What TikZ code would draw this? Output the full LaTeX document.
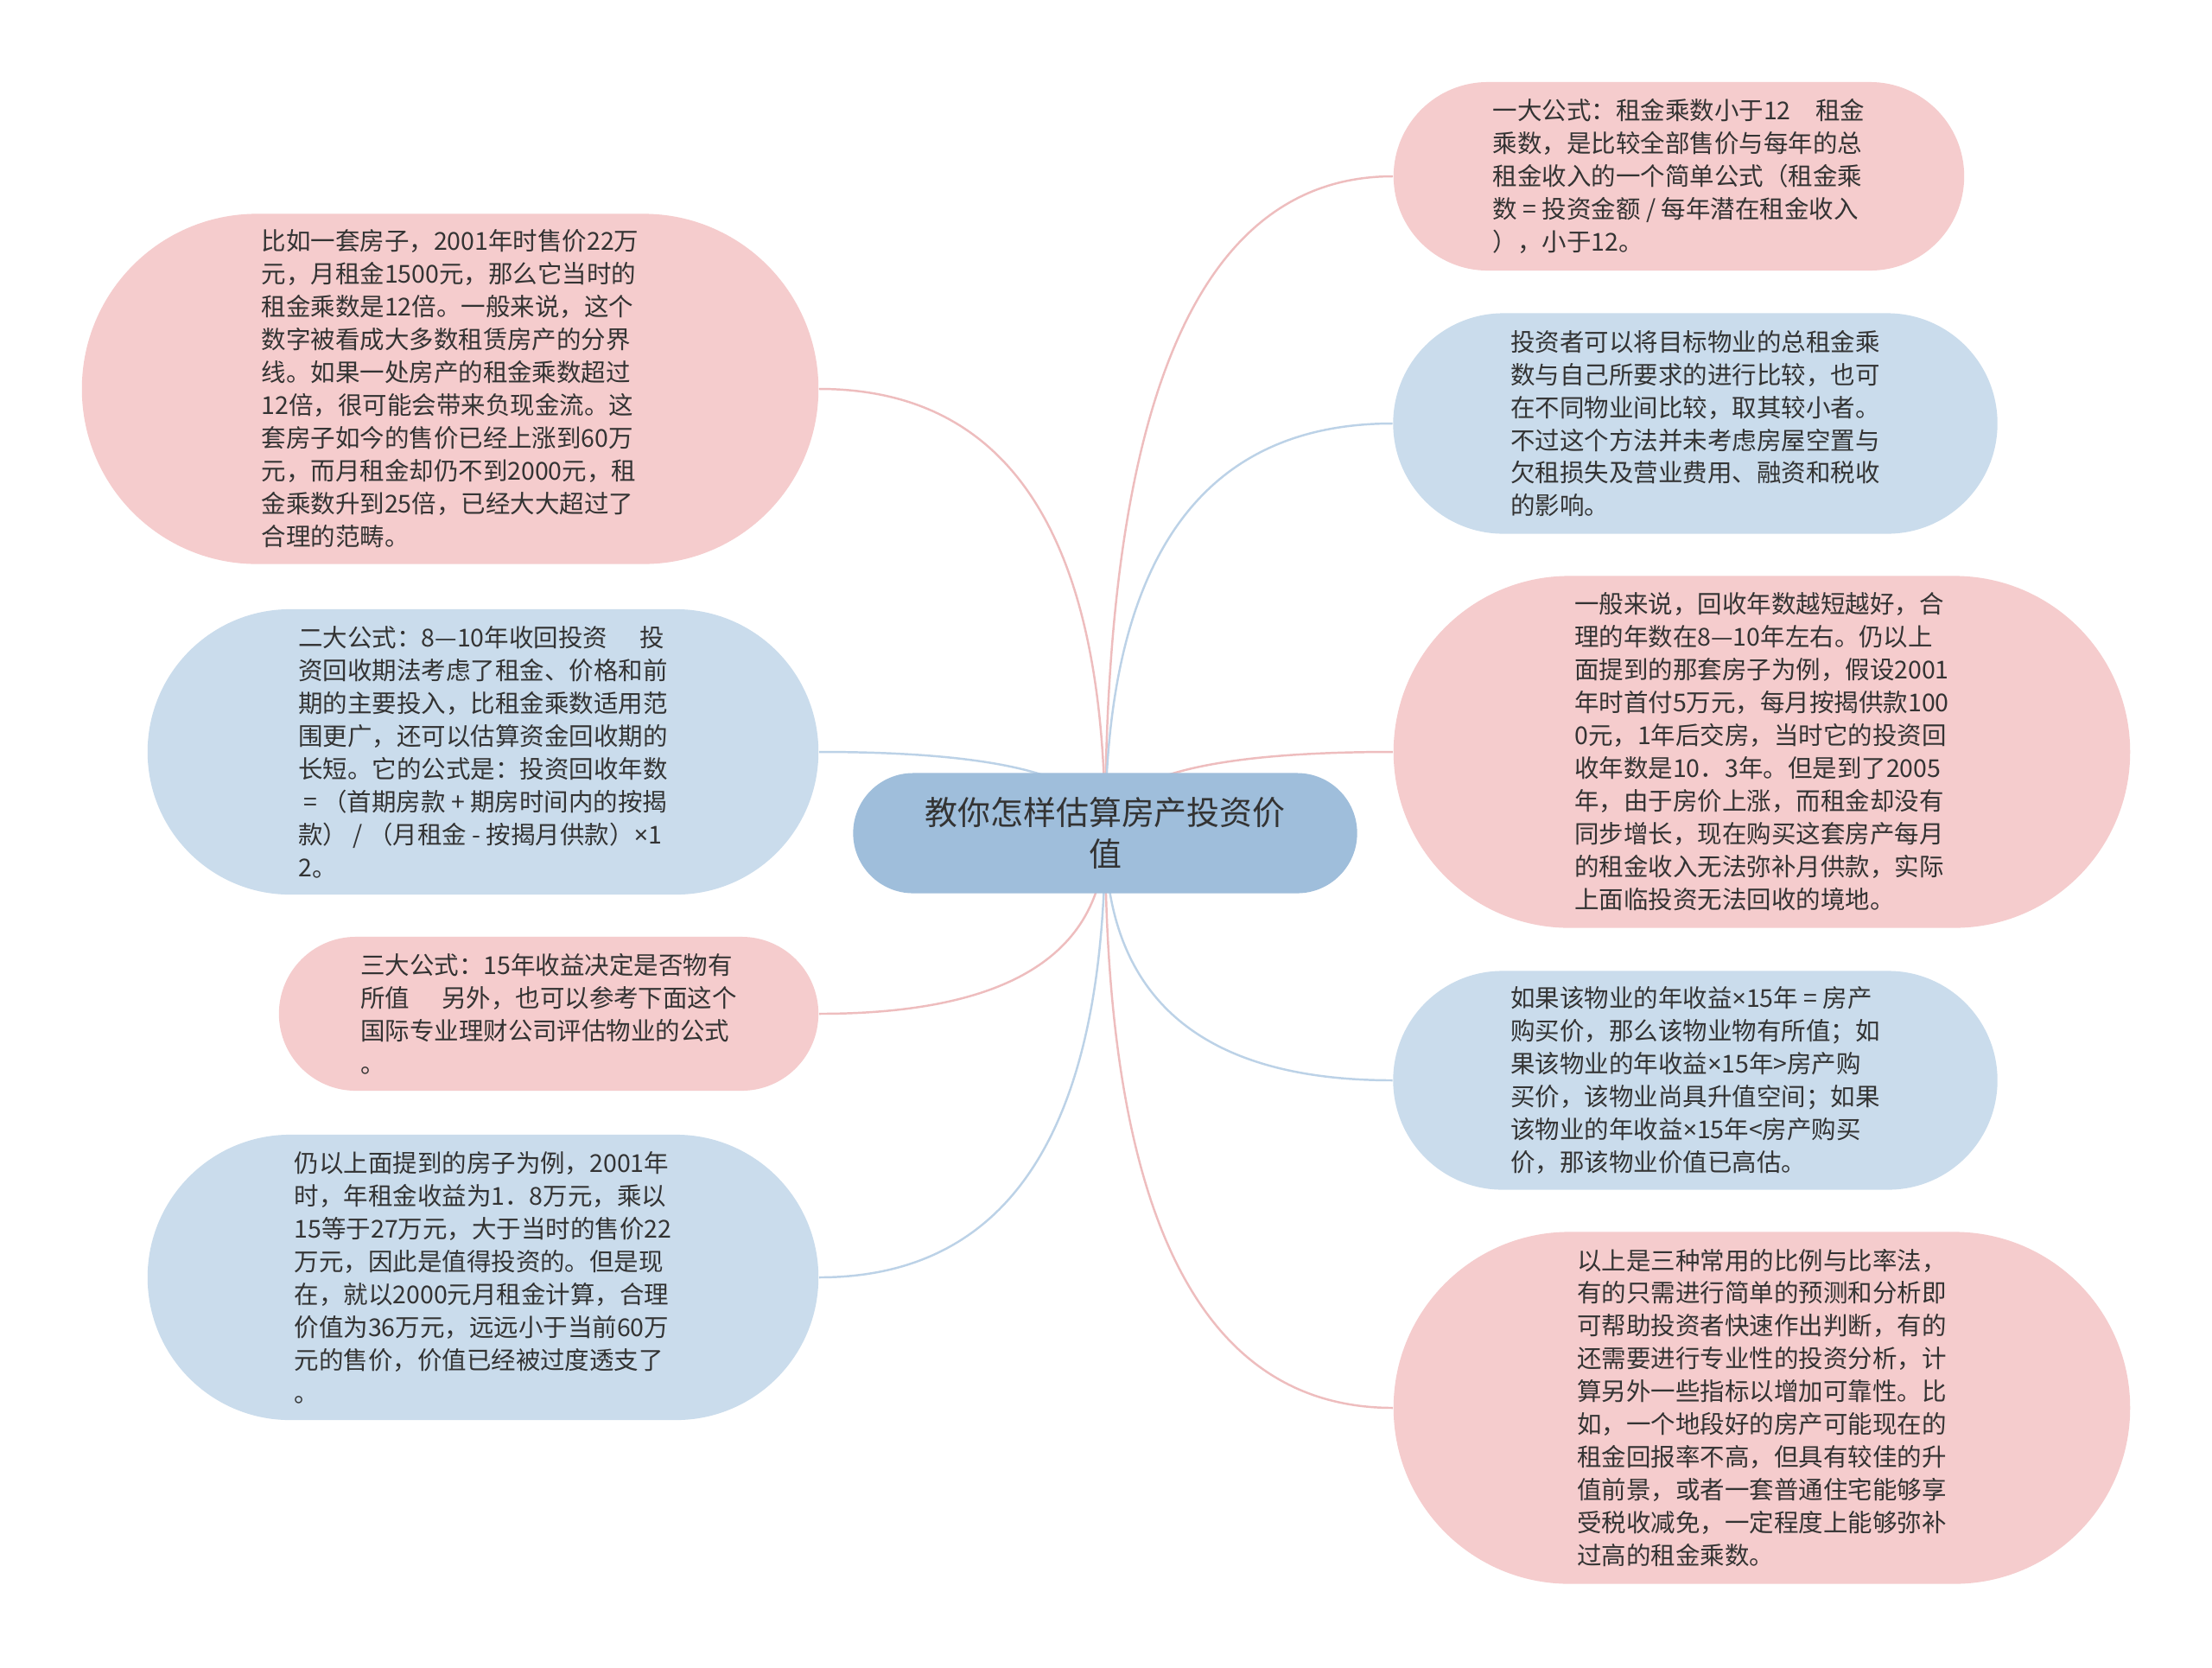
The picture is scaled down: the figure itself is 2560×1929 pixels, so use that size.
\documentclass[tikz,border=0pt]{standalone}
\usepackage{fontspec}
\newfontfamily\cjk{Noto Sans CJK SC}
\newfontfamily\latin{Noto Sans}
\usetikzlibrary{shapes.misc,calc,backgrounds}
\definecolor{pinkfill}{HTML}{F5CCCD}
\definecolor{bluefill}{HTML}{CADCEC}
\definecolor{rootfill}{HTML}{9FBEDB}
\definecolor{pinkline}{HTML}{EEBDBE}
\definecolor{blueline}{HTML}{BCD2E7}
\definecolor{txt}{HTML}{333333}
\tikzset{
  leaf/.style={rounded rectangle, inner sep=0pt, align=left, text=txt,
    font=\cjk\fontsize{8.1pt}{10.8pt}\selectfont},
  pinkleaf/.style={leaf, fill=pinkfill},
  blueleaf/.style={leaf, fill=bluefill},
  root/.style={rounded rectangle, inner sep=0pt, fill=rootfill, align=center,
    text=txt, font=\cjk\fontsize{10.8pt}{13.4pt}\selectfont},
  pinkedge/.style={draw=pinkline, line width=0.7pt},
  blueedge/.style={draw=blueline, line width=0.7pt},
}
\newcommand\tms{{\latin ×}}
% curve from the root to a leaf
\newcommand\branch[3]{%
  \draw[#1] (#2) .. controls ($(#2)!.667!(#2|-#3)$) and ($(#3)!.667!(#2|-#3)$) .. (#3);}
\begin{document}
\begin{tikzpicture}[x=0.01cm,y=-0.01cm]
\node[root, minimum width=5.83cm, minimum height=1.39cm] (ctr) at (1279,964)
  {教你怎样估算房产投资价\\值};
% left side
\node[pinkleaf, minimum width=8.52cm, minimum height=4.05cm] (l1) at (521,450)
  {比如一套房子，2001年时售价22万\\
元，月租金1500元，那么它当时的\\
租金乘数是12倍。一般来说，这个\\
数字被看成大多数租赁房产的分界\\
线。如果一处房产的租金乘数超过\\
12倍，很可能会带来负现金流。这\\
套房子如今的售价已经上涨到60万\\
元，而月租金却仍不到2000元，租\\
金乘数升到25倍，已经大大超过了\\
合理的范畴。};
\node[blueleaf, minimum width=7.76cm, minimum height=3.30cm] (l2) at (559,870)
  {二大公式：8—10年收回投资\hspace{1.3em}投\\
资回收期法考虑了租金、价格和前\\
期的主要投入，比租金乘数适用范\\
围更广，还可以估算资金回收期的\\
长短。它的公式是：投资回收年数\\
\hspace{.2em}= （首期房款 + 期房时间内的按揭\\
款） / （月租金 - 按揭月供款）\tms1\\
2。};
\node[pinkleaf, minimum width=6.24cm, minimum height=1.78cm] (l3) at (635,1173)
  {三大公式：15年收益决定是否物有\\
所值\hspace{1.3em}另外，也可以参考下面这个\\
国际专业理财公司评估物业的公式\\
。};
\node[blueleaf, minimum width=7.76cm, minimum height=3.30cm] (l4) at (559,1478)
  {仍以上面提到的房子为例，2001年\\
时，年租金收益为1．8万元，乘以\\
15等于27万元，大于当时的售价22\\
万元，因此是值得投资的。但是现\\
在，就以2000元月租金计算，合理\\
价值为36万元，远远小于当前60万\\
元的售价，价值已经被过度透支了\\
。};
% right side
\node[pinkleaf, minimum width=6.60cm, minimum height=2.18cm] (r1) at (1943,204)
  {一大公式：租金乘数小于12\hspace{1em}租金\\
乘数，是比较全部售价与每年的总\\
租金收入的一个简单公式（租金乘\\
数 = 投资金额 / 每年潜在租金收入\\
），小于12。};
\node[blueleaf, minimum width=6.99cm, minimum height=2.55cm] (r2) at (1962,490)
  {投资者可以将目标物业的总租金乘\\
数与自己所要求的进行比较，也可\\
在不同物业间比较，取其较小者。\\
不过这个方法并未考虑房屋空置与\\
欠租损失及营业费用、融资和税收\\
的影响。};
\node[pinkleaf, minimum width=8.52cm, minimum height=4.07cm] (r3) at (2039,870)
  {一般来说，回收年数越短越好，合\\
理的年数在8—10年左右。仍以上\\
面提到的那套房子为例，假设2001\\
年时首付5万元，每月按揭供款100\\
0元，1年后交房，当时它的投资回\\
收年数是10．3年。但是到了2005\\
年，由于房价上涨，而租金却没有\\
同步增长，现在购买这套房产每月\\
的租金收入无法弥补月供款，实际\\
上面临投资无法回收的境地。};
\node[blueleaf, minimum width=6.99cm, minimum height=2.53cm] (r4) at (1962,1250)
  {如果该物业的年收益\tms15年 = 房产\\
购买价，那么该物业物有所值；如\\
果该物业的年收益\tms15年>房产购\\
买价，该物业尚具升值空间；如果\\
该物业的年收益\tms15年<房产购买\\
价，那该物业价值已高估。};
\node[pinkleaf, minimum width=8.52cm, minimum height=4.07cm] (r5) at (2039,1629)
  {以上是三种常用的比例与比率法，\\
有的只需进行简单的预测和分析即\\
可帮助投资者快速作出判断，有的\\
还需要进行专业性的投资分析，计\\
算另外一些指标以增加可靠性。比\\
如，一个地段好的房产可能现在的\\
租金回报率不高，但具有较佳的升\\
值前景，或者一套普通住宅能够享\\
受税收减免，一定程度上能够弥补\\
过高的租金乘数。};
\begin{scope}[on background layer]
\fill[white] (0,0) rectangle (2560,1929);
\branch{pinkedge}{ctr.center}{l1.east}
\branch{blueedge}{ctr.center}{l2.east}
\branch{pinkedge}{ctr.center}{l3.east}
\branch{blueedge}{ctr.center}{l4.east}
\branch{pinkedge}{ctr.center}{r1.west}
\branch{blueedge}{ctr.center}{r2.west}
\branch{pinkedge}{ctr.center}{r3.west}
\branch{blueedge}{ctr.center}{r4.west}
\branch{pinkedge}{ctr.center}{r5.west}
\end{scope}
\end{tikzpicture}
\end{document}
